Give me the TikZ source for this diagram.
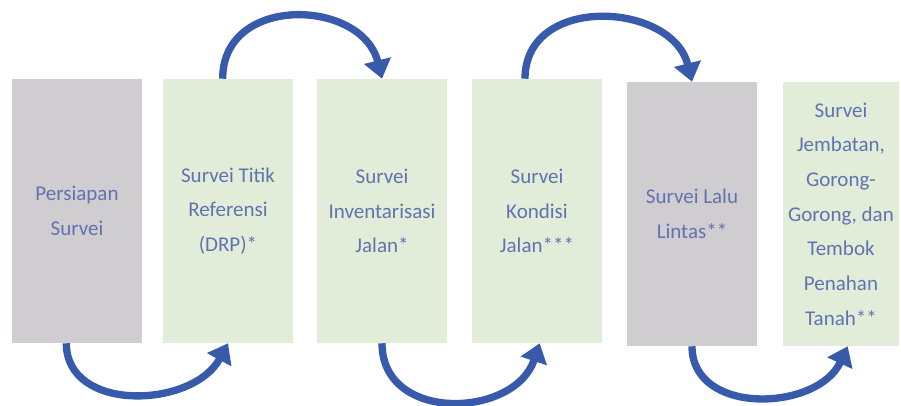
\documentclass[tikz,border=0pt]{standalone}
\usepackage{fontspec}
\setmainfont{Carlito}
\usetikzlibrary{arrows.meta}
\definecolor{boxgray}{RGB}{207,205,208}
\definecolor{boxgreen}{RGB}{226,237,217}
\definecolor{txtblue}{RGB}{98,114,176}
\definecolor{arrowblue}{RGB}{56,90,170}
\tikzset{
  stepbox/.style={fill=#1, text=txtblue, align=center, inner sep=0pt,
    minimum width=97.5pt, minimum height=198pt,
    font=\fontsize{15.75}{26}\selectfont},
  flow/.style={draw=arrowblue, line width=5.5pt,
    -{Triangle[width=20pt,length=14pt]}}
}
\begin{document}
\begin{tikzpicture}[x=0.75pt,y=-0.75pt]
\useasboundingbox (0,0) rectangle (901,406);
%boxes
\node[stepbox=boxgray] (persiapan) at (77,211) {Persiapan\\Survei};
\node[stepbox=boxgreen] (titik) at (228,211) {Survei Titik\\Referensi\\(DRP)*};
\node[stepbox=boxgreen] (inventaris) at (382,211) {Survei\\Inventarisasi\\Jalan*};
\node[stepbox=boxgreen] (kondisi) at (537,211) {Survei\\Kondisi\\Jalan***};
\node[stepbox=boxgray] (lalu) at (692,214) {Survei Lalu\\Lintas**};
\node[stepbox=boxgreen, minimum width=87pt] (jembatan) at (841,214) {Survei\\Jembatan,\\Gorong-\\Gorong, dan\\Tembok\\Penahan\\Tanah**};
%arrows below
\draw[flow] ([xshift=-8pt]persiapan.south) .. controls +(0,70) and +(-35,65) .. (titik.south);
\draw[flow] (inventaris.south) .. controls +(0,80) and +(-25,75) .. ([xshift=2pt]kondisi.south);
\draw[flow] (lalu.south) .. controls +(0,70) and +(-30,65) .. ([xshift=5pt]jembatan.south);
%arrows above
\draw[flow] ([xshift=-4pt]titik.north) .. controls +(0,-85) and +(-20,-80) .. (inventaris.north);
\draw[flow] ([xshift=-9pt]kondisi.north) .. controls +(0,-85) and +(-20,-80) .. (lalu.north);
\end{tikzpicture}
\end{document}
